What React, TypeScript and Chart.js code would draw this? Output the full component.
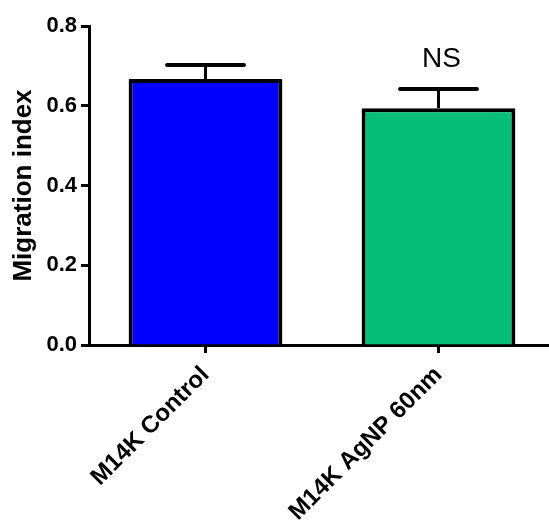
import React, { useEffect, useRef } from "react";
import { Chart, registerables } from "chart.js";

Chart.register(...registerables);

const categories = ["M14K Control", "M14K AgNP 60nm"];
const means = [0.667, 0.594];
const errors = [0.035, 0.048];
const annotations = ["", "NS"];
const barColors = ["#0000FF", "#07BE78"];
const yTicks = [0, 0.2, 0.4, 0.6, 0.8];

const FONT = "'Liberation Sans', Arial, Helvetica, sans-serif";

const errorBarPlugin = {
  id: "errorBars",
  afterDatasetsDraw(chart: any) {
    const ctx = chart.ctx;
    const meta = chart.getDatasetMeta(0);
    const yScale = chart.scales.y;
    ctx.save();
    meta.data.forEach((bar: any, i: number) => {
      const x = bar.x;
      const top = yScale.getPixelForValue(means[i]);
      const errTop = yScale.getPixelForValue(means[i] + errors[i]);
      const half = bar.width * 0.25;
      ctx.strokeStyle = "#000";
      ctx.lineWidth = 3;
      ctx.lineCap = "butt";
      ctx.beginPath();
      ctx.moveTo(x, top);
      ctx.lineTo(x, errTop);
      ctx.stroke();
      ctx.lineWidth = 4;
      ctx.lineCap = "round";
      ctx.beginPath();
      ctx.moveTo(x - half, errTop);
      ctx.lineTo(x + half, errTop);
      ctx.stroke();
      if (annotations[i]) {
        ctx.fillStyle = "#000";
        ctx.font = `28px ${FONT}`;
        ctx.textAlign = "center";
        ctx.textBaseline = "alphabetic";
        ctx.fillText(annotations[i], x + 3, errTop - 22);
      }
    });
    ctx.restore();
  },
};

export default function App() {
  const canvasRef = useRef<HTMLCanvasElement | null>(null);

  useEffect(() => {
    const canvas = canvasRef.current;
    if (!canvas) return;
    const chart = new Chart(canvas, {
      type: "bar",
      data: {
        labels: categories,
        datasets: [
          {
            data: means,
            backgroundColor: barColors,
            borderColor: "#000",
            borderWidth: 4,
            borderSkipped: "bottom",
            barPercentage: 0.66,
            categoryPercentage: 1,
          },
        ],
      },
      options: {
        animation: false,
        responsive: false,
        devicePixelRatio: 1,
        layout: { padding: { top: 26, right: 5, left: 0, bottom: 0 } },
        plugins: {
          legend: { display: false },
          tooltip: { enabled: false },
        },
        scales: {
          x: {
            offset: true,
            afterFit: (scale: any) => {
              scale.height = 175;
            },
            border: { display: true, color: "#000", width: 3 },
            grid: {
              offset: false,
              drawOnChartArea: false,
              drawTicks: true,
              tickLength: 8,
              tickWidth: 3,
              tickColor: "#000",
            },
            ticks: {
              color: "#000",
              font: { family: FONT, size: 24, weight: "bold" },
              minRotation: 45,
              maxRotation: 45,
              padding: 8,
            },
          },
          y: {
            min: 0,
            max: 0.8,
            afterFit: (scale: any) => {
              scale.width = 89;
            },
            afterBuildTicks: (scale: any) => {
              scale.ticks = yTicks.map((v) => ({ value: v }));
            },
            border: { display: true, color: "#000", width: 3 },
            grid: {
              drawOnChartArea: false,
              drawTicks: true,
              tickLength: 8,
              tickWidth: 3,
              tickColor: "#000",
            },
            ticks: {
              color: "#000",
              font: { family: FONT, size: 22, weight: "bold" },
              padding: 4,
              callback: (v: any) => Number(v).toFixed(1),
            },
            title: {
              display: true,
              text: "Migration index",
              color: "#000",
              font: { family: FONT, size: 26, weight: "bold" },
              padding: { top: 8, bottom: 4 },
            },
          },
        },
      },
      plugins: [errorBarPlugin],
    });
    return () => chart.destroy();
  }, []);

  return (
    <div
      style={{
        position: "fixed",
        left: 0,
        top: 0,
        width: 549,
        height: 520,
        overflow: "hidden",
        background: "#fff",
      }}
    >
      <canvas
        ref={canvasRef}
        width={560}
        height={520}
        style={{ display: "block", width: 560, height: 520 }}
      />
    </div>
  );
}
